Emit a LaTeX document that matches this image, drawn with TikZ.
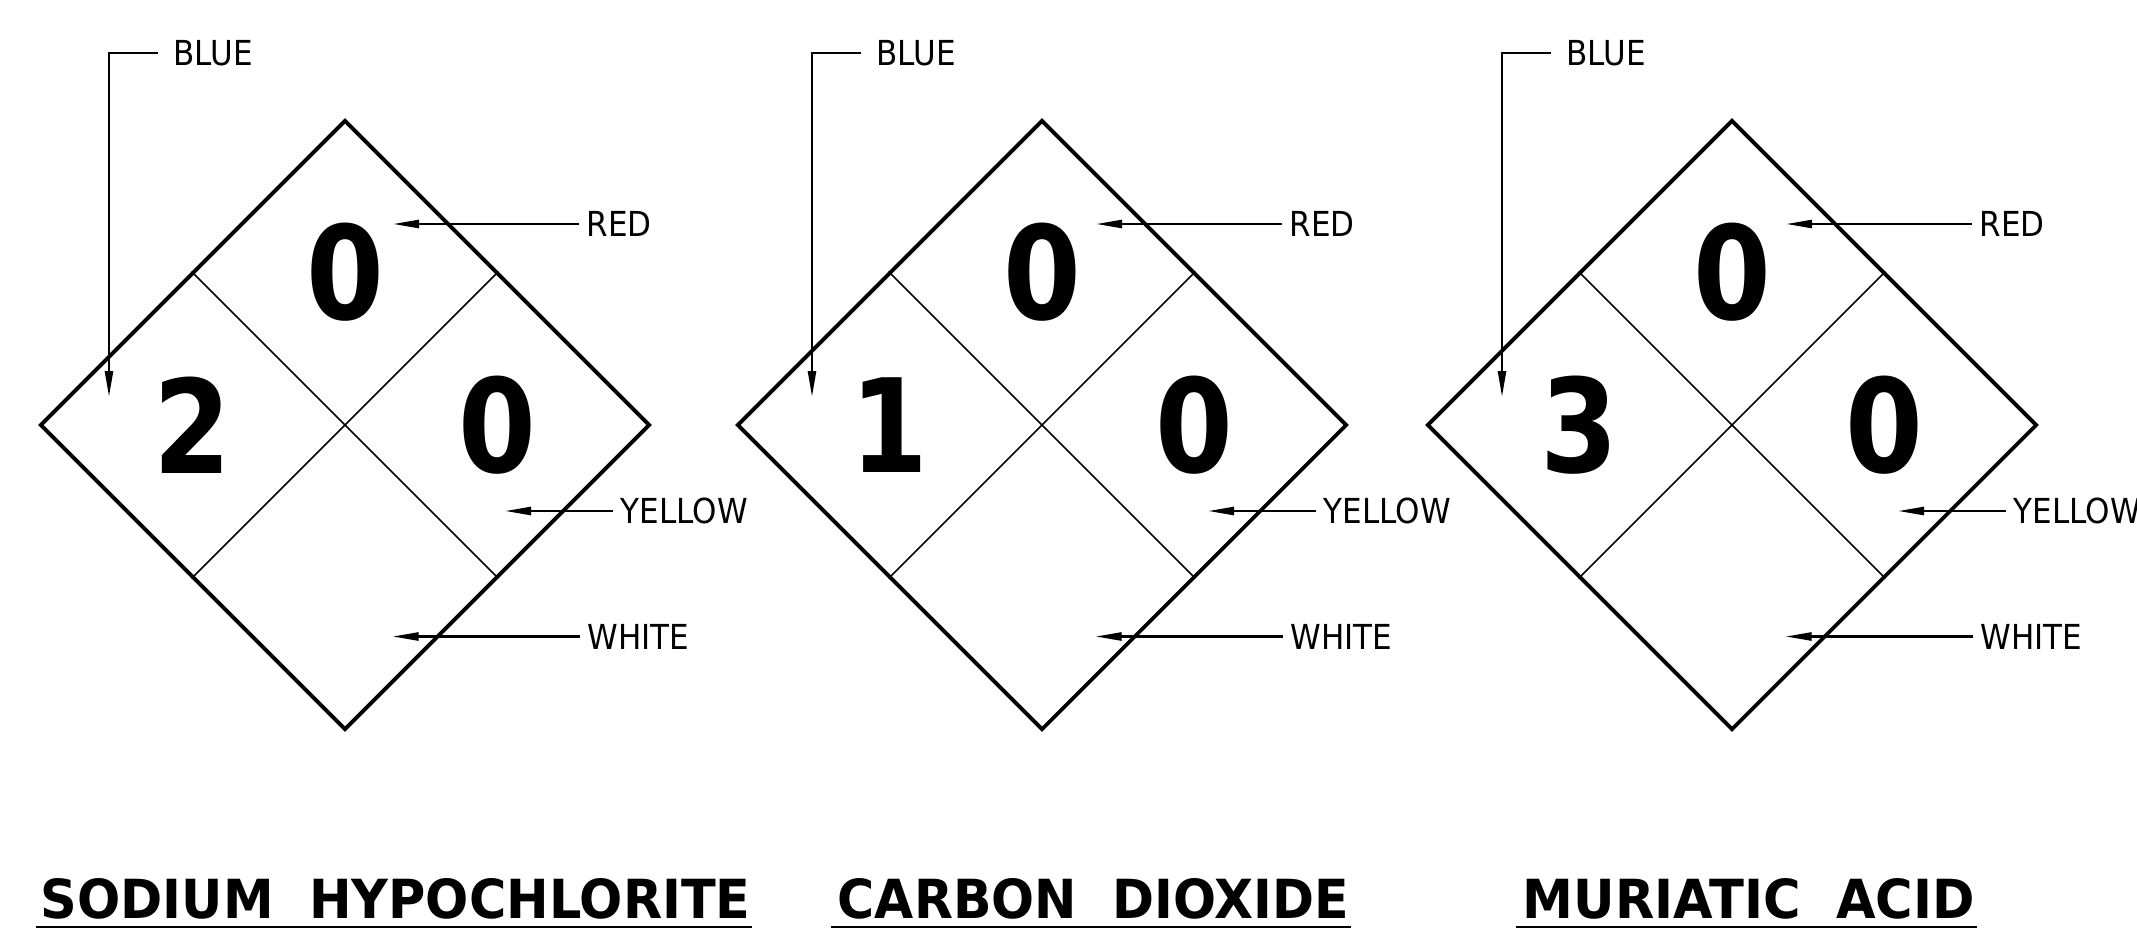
\documentclass[tikz,border=0pt]{standalone}
\usepackage{fontspec}
\usepackage{graphicx}
\usetikzlibrary{shapes.geometric,arrows.meta,calc}

\newfontfamily\cadfont[FakeStretch=0.9]{DejaVu Sans}
\newfontfamily\heavyfont{DejaVu Sans}
\newfontfamily\digitfont[FakeStretch=0.86]{DejaVu Sans}

\newcommand{\chemname}[2]{\resizebox{#1}{0.40cm}{#2}}

\tikzset{
  placard/.style={draw, shape=diamond, aspect=1, minimum width=6.1cm, minimum height=6.1cm, inner sep=0pt, line width=1.1pt},
  divider/.style={line width=0.45pt},
  digit/.style={font=\digitfont\bfseries\fontsize{37}{37}\selectfont, inner sep=0pt},
  tag/.style={font=\cadfont\fontsize{9.8}{10}\selectfont, inner xsep=0.07cm, inner ysep=0pt, anchor=west},
  leader/.style={line width=0.7pt, -{Triangle[length=2.6mm,width=0.8mm]}},
  chemtitle/.style={font=\heavyfont\bfseries, inner sep=0pt, anchor=base west},
  rule/.style={line width=0.8pt}
}

\begin{document}
\begin{tikzpicture}
    \fill[white] (0,0) rectangle (21.37,9.37);
    \useasboundingbox (0,0) rectangle (21.37,9.37);

    % sodium hypochlorite
    \node[placard] (sh) at (3.45,5.12) {};
    \draw[divider] ($(sh.north)!0.5!(sh.west)$) -- ($(sh.south)!0.5!(sh.east)$);
    \draw[divider] ($(sh.north)!0.5!(sh.east)$) -- ($(sh.south)!0.5!(sh.west)$);
    \node[digit] (sh-red) at ([yshift=1.525cm]sh.center) {0};
    \node[digit] (sh-blue) at ([xshift=-1.525cm]sh.center) {2};
    \node[digit] (sh-yel) at ([xshift=1.525cm]sh.center) {0};
    \node[tag, inner xsep=0.15cm] (sh-b) at (1.58,8.84) {BLUE};
    \node[tag] (sh-r) at (5.79,7.13) {RED};
    \node[tag] (sh-y) at (6.13,4.26) {YELLOW};
    \node[tag] (sh-w) at (5.80,3.005) {WHITE};
    \coordinate (sh-bc) at (1.09,8.84);
    \coordinate (sh-bt) at (1.09,5.40);
    \coordinate (sh-rt) at (3.93,7.13);
    \coordinate (sh-yt) at (5.05,4.26);
    \coordinate (sh-wt) at (3.925,3.005);
    \draw[leader] (sh-b) -- (sh-bc) -- (sh-bt);
    \draw[leader] (sh-r) -- (sh-rt);
    \draw[leader] (sh-y) -- (sh-yt);
    \draw[leader] (sh-w) -- (sh-wt);

    % carbon dioxide
    \node[placard] (cd) at (10.42,5.12) {};
    \draw[divider] ($(cd.north)!0.5!(cd.west)$) -- ($(cd.south)!0.5!(cd.east)$);
    \draw[divider] ($(cd.north)!0.5!(cd.east)$) -- ($(cd.south)!0.5!(cd.west)$);
    \node[digit] (cd-red) at ([yshift=1.525cm]cd.center) {0};
    \node[digit] (cd-blue) at ([xshift=-1.525cm]cd.center) {1};
    \node[digit] (cd-yel) at ([xshift=1.525cm]cd.center) {0};
    \node[tag, inner xsep=0.15cm] (cd-b) at (8.61,8.84) {BLUE};
    \node[tag] (cd-r) at (12.82,7.13) {RED};
    \node[tag] (cd-y) at (13.16,4.26) {YELLOW};
    \node[tag] (cd-w) at (12.83,3.005) {WHITE};
    \coordinate (cd-bc) at (8.12,8.84);
    \coordinate (cd-bt) at (8.12,5.40);
    \coordinate (cd-rt) at (10.96,7.13);
    \coordinate (cd-yt) at (12.08,4.26);
    \coordinate (cd-wt) at (10.955,3.005);
    \draw[leader] (cd-b) -- (cd-bc) -- (cd-bt);
    \draw[leader] (cd-r) -- (cd-rt);
    \draw[leader] (cd-y) -- (cd-yt);
    \draw[leader] (cd-w) -- (cd-wt);

    % muriatic acid
    \node[placard] (ma) at (17.32,5.12) {};
    \draw[divider] ($(ma.north)!0.5!(ma.west)$) -- ($(ma.south)!0.5!(ma.east)$);
    \draw[divider] ($(ma.north)!0.5!(ma.east)$) -- ($(ma.south)!0.5!(ma.west)$);
    \node[digit] (ma-red) at ([yshift=1.525cm]ma.center) {0};
    \node[digit] (ma-blue) at ([xshift=-1.525cm]ma.center) {3};
    \node[digit] (ma-yel) at ([xshift=1.525cm]ma.center) {0};
    \node[tag, inner xsep=0.15cm] (ma-b) at (15.51,8.84) {BLUE};
    \node[tag] (ma-r) at (19.72,7.13) {RED};
    \node[tag] (ma-y) at (20.06,4.26) {YELLOW};
    \node[tag] (ma-w) at (19.73,3.005) {WHITE};
    \coordinate (ma-bc) at (15.02,8.84);
    \coordinate (ma-bt) at (15.02,5.40);
    \coordinate (ma-rt) at (17.86,7.13);
    \coordinate (ma-yt) at (18.98,4.26);
    \coordinate (ma-wt) at (17.855,3.005);
    \draw[leader] (ma-b) -- (ma-bc) -- (ma-bt);
    \draw[leader] (ma-r) -- (ma-rt);
    \draw[leader] (ma-y) -- (ma-yt);
    \draw[leader] (ma-w) -- (ma-wt);

    % names
    \node[chemtitle] (t1) at (0.40,0.19) {\chemname{7.10cm}{SODIUM\ \ HYPOCHLORITE}};
    \node[chemtitle] (t2) at (8.37,0.19) {\chemname{5.11cm}{CARBON\ \ DIOXIDE}};
    \node[chemtitle] (t3) at (15.22,0.19) {\chemname{4.52cm}{MURIATIC\ \ ACID}};
    \draw[rule] ([shift={(-0.04,-0.09)}]t1.base west) -- ([shift={(0.01,-0.09)}]t1.base east);
    \draw[rule] ([shift={(-0.06,-0.09)}]t2.base west) -- ([shift={(0.02,-0.09)}]t2.base east);
    \draw[rule] ([shift={(-0.06,-0.09)}]t3.base west) -- ([shift={(0.02,-0.09)}]t3.base east);
\end{tikzpicture}
\end{document}
